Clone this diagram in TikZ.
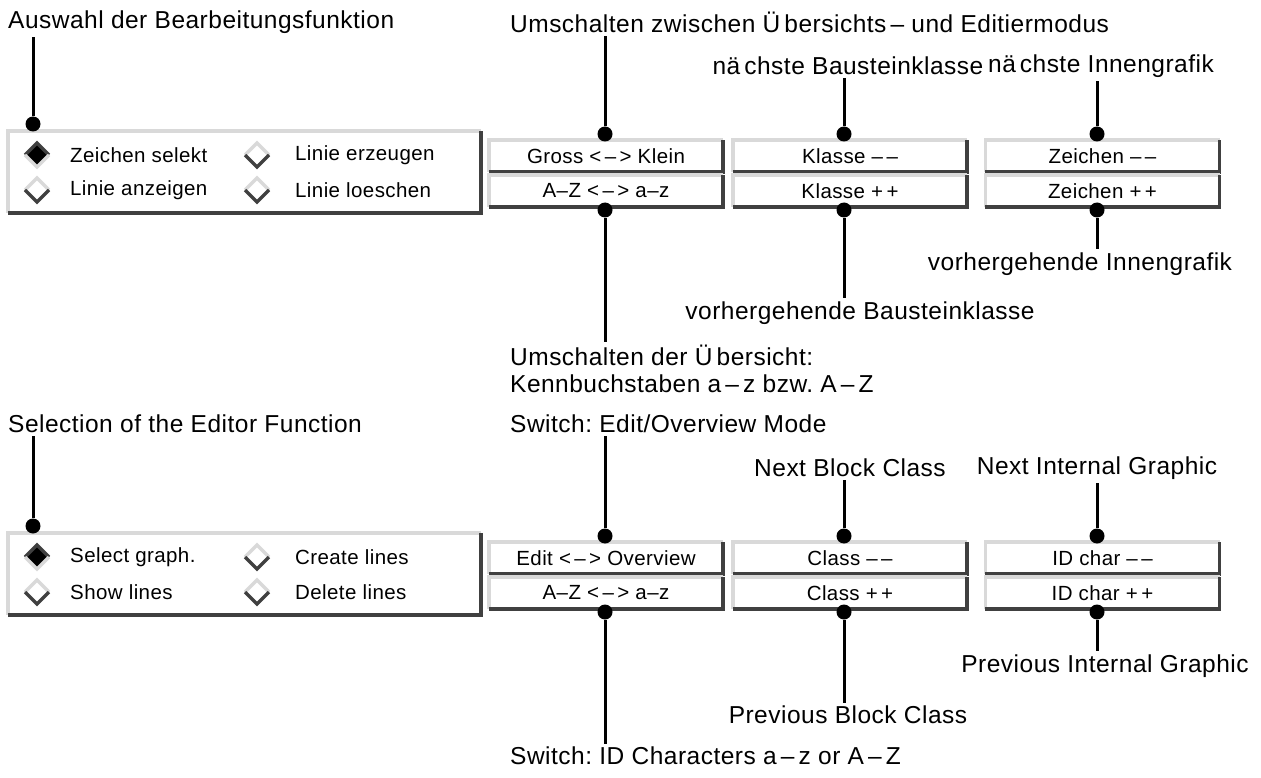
\documentclass[tikz,border=0pt]{standalone}
\usepackage{fontspec}
\setmainfont{Liberation Sans}
\newfontfamily\calloutfont[LetterSpace=2]{Liberation Sans}
\newfontfamily\widgetfont[LetterSpace=2]{Liberation Sans}
\definecolor{bevellight}{HTML}{D9D9D9}
\definecolor{beveldark}{HTML}{404040}
\frenchspacing
\tikzset{
  callout/.style={font=\calloutfont\fontsize{24.5}{27}\selectfont, inner sep=3pt, align=left},
  btn/.style={minimum width=234pt, minimum height=32pt, inner sep=0pt, font=\widgetfont\fontsize{20.5}{22}\selectfont},
  itemtext/.style={anchor=west, inner sep=0pt, font=\widgetfont\fontsize{20.5}{22}\selectfont},
  panel/.style={minimum width=473pt, minimum height=82pt, inner sep=0pt},
  pin/.style={circle, fill=black, inner sep=0pt, minimum size=15pt},
  stem/.style={line width=3pt},
  radiooff/.pic={
    \fill[white] (-12,0)--(0,-12)--(12,0)--(0,12)--cycle;
    \draw[bevellight, line width=3.5pt, line join=miter] (-12,0)--(0,-12)--(12,0);
    \draw[beveldark, line width=3.5pt, line join=miter] (-12,0)--(0,12)--(12,0);
  },
  radioon/.pic={
    \fill[black] (-12,0)--(0,-12)--(12,0)--(0,12)--cycle;
    \draw[beveldark, line width=3.5pt, line join=miter] (-12,0)--(0,-12)--(12,0);
    \draw[bevellight, line width=3.5pt, line join=miter] (-12,0)--(0,12)--(12,0);
  }
}
% raised 3D border around a named node
\newcommand\bevelframe[1]{%
  \draw[bevellight, line width=3.5pt] (#1.south west) |- (#1.north east);
  \draw[beveldark, line width=3.5pt] (#1.south west) -| (#1.north east);
}
\begin{document}
\begin{tikzpicture}[x=1pt, y=-1pt]
\useasboundingbox[fill=white] (0,0) rectangle (1261,778);

% ================= German panel =================
\node[panel] (gpanel) at (244.5,172) {};
\bevelframe{gpanel}
\pic at (37,155) {radioon};
\pic at (257,155) {radiooff};
\pic at (37,190) {radiooff};
\pic at (257,190) {radiooff};
\node[itemtext] (gi1) at (70,155) {Zeichen selekt};
\node[itemtext] (gi2) at (295,155) {Linie erzeugen};
\node[itemtext] (gi3) at (70,190) {Linie anzeigen};
\node[itemtext] (gi4) at (295,190) {Linie loeschen};

\node[btn] (gb1) at (606,156) {Gross <\,–\,> Klein};
\node[btn] (gb2) at (606,191) {A–Z <\,–\,> a–z};
\node[btn] (gb3) at (850,156) {Klasse –\,–};
\node[btn] (gb4) at (850,191) {Klasse +\,+};
\node[btn] (gb5) at (1102.5,156) {Zeichen –\,–};
\node[btn] (gb6) at (1102.5,191) {Zeichen +\,+};
\foreach \b in {gb1,gb2,gb3,gb4,gb5,gb6} {\bevelframe{\b}}

\node[callout, anchor=west] (gt1) at (5,22) {Auswahl der Bearbeitungsfunktion};
\node[callout, anchor=west] (gt2) at (507,22) {Umschalten zwischen Ü\,bersichts\,– und Editiermodus};
\node[callout] (gt3) at (848,66) {nä\kern4pt chste Bausteinklasse};
\node[callout] (gt4) at (1101,66) {nä\kern4pt chste Innengrafik};
\node[callout] (gt5) at (1080,264) {vorhergehende Innengrafik};
\node[callout] (gt6) at (860,313) {vorhergehende Bausteinklasse};
\node[callout, anchor=north west] (gt7) at (507,342) {Umschalten der Ü\,bersicht:\\Kennbuchstaben a\,–\,z bzw. A\,–\,Z};

\node[pin] (gp1) at (33,124) {};
\node[pin] (gp2) at (605,134) {};
\node[pin] (gp3) at (844,134) {};
\node[pin] (gp4) at (1097,134) {};
\node[pin] (gp5) at (605,210) {};
\node[pin] (gp6) at (844,210) {};
\node[pin] (gp7) at (1097,210) {};

\draw[stem] (gp1) -- (gp1 |- gt1.south);
\draw[stem] (gp2) -- (gp2 |- gt2.south);
\draw[stem] (gp3) -- (gp3 |- gt3.south);
\draw[stem] (gp4) -- (gp4 |- gt4.south);
\draw[stem] (gp7) -- (gp7 |- gt5.north);
\draw[stem] (gp6) -- (gp6 |- gt6.north);
\draw[stem] (gp5) -- (gp5 |- gt7.north);

% ================= English panel =================
\begin{scope}[yshift=-402pt]
\node[panel] (epanel) at (244.5,172) {};
\bevelframe{epanel}
\pic at (37,155) {radioon};
\pic at (257,155) {radiooff};
\pic at (37,190) {radiooff};
\pic at (257,190) {radiooff};
\node[itemtext] (ei1) at (70,155) {Select graph.};
\node[itemtext] (ei2) at (295,155) {Create lines};
\node[itemtext] (ei3) at (70,190) {Show lines};
\node[itemtext] (ei4) at (295,190) {Delete lines};

\node[btn] (eb1) at (606,156) {Edit <\,–\,> Overview};
\node[btn] (eb2) at (606,191) {A–Z <\,–\,> a–z};
\node[btn] (eb3) at (850,156) {Class –\,–};
\node[btn] (eb4) at (850,191) {Class +\,+};
\node[btn] (eb5) at (1102.5,156) {ID char –\,–};
\node[btn] (eb6) at (1102.5,191) {ID char +\,+};
\foreach \b in {eb1,eb2,eb3,eb4,eb5,eb6} {\bevelframe{\b}}

\node[callout, anchor=west] (et1) at (5,22) {Selection of the Editor Function};
\node[callout, anchor=west] (et2) at (507,22) {Switch: Edit/Overview Mode};
\node[callout] (et3) at (850,66) {Next Block Class};
\node[callout] (et4) at (1097,66) {Next Internal Graphic};
\node[callout] (et5) at (1105,264) {Previous Internal Graphic};
\node[callout] (et6) at (848,313) {Previous Block Class};
\node[callout, anchor=north west] (et7) at (507,342) {Switch: ID Characters a\,–\,z or A\,–\,Z};

\node[pin] (ep1) at (33,124) {};
\node[pin] (ep2) at (605,134) {};
\node[pin] (ep3) at (844,134) {};
\node[pin] (ep4) at (1097,134) {};
\node[pin] (ep5) at (605,210) {};
\node[pin] (ep6) at (844,210) {};
\node[pin] (ep7) at (1097,210) {};

\draw[stem] (ep1) -- (ep1 |- et1.south);
\draw[stem] (ep2) -- (ep2 |- et2.south);
\draw[stem] (ep3) -- (ep3 |- et3.south);
\draw[stem] (ep4) -- (ep4 |- et4.south);
\draw[stem] (ep7) -- (ep7 |- et5.north);
\draw[stem] (ep6) -- (ep6 |- et6.north);
\draw[stem] (ep5) -- (ep5 |- et7.north);
\end{scope}
\end{tikzpicture}
\end{document}
